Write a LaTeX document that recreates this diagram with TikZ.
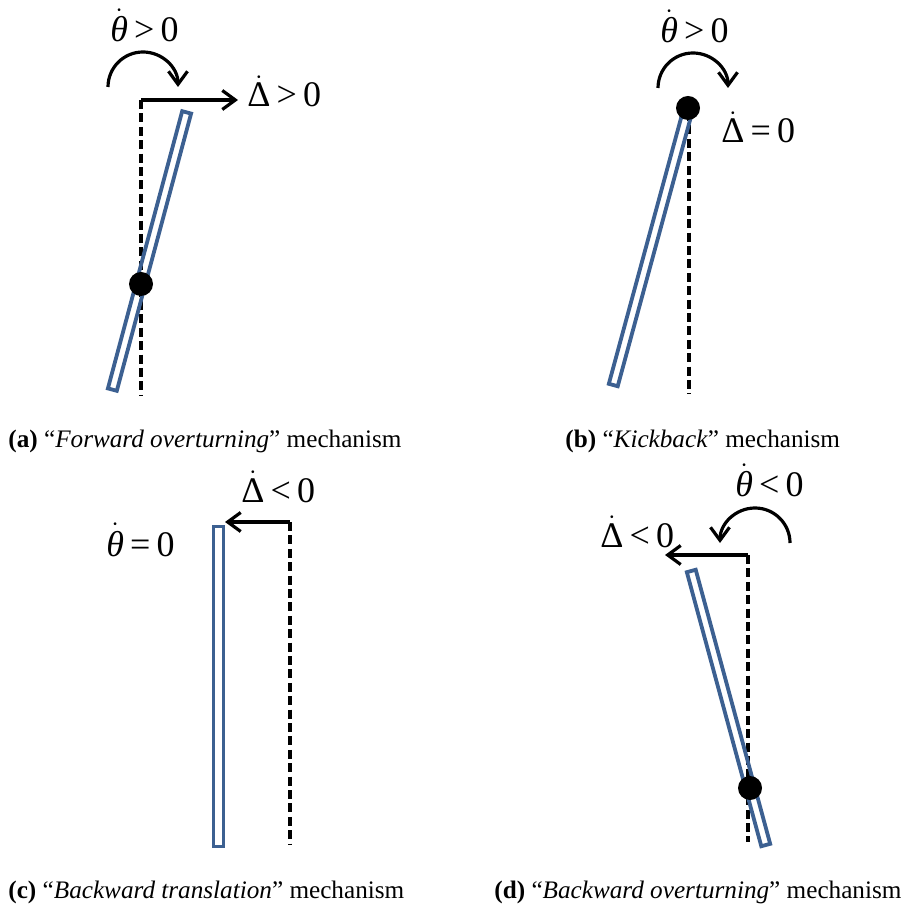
\documentclass[tikz,border=0pt]{standalone}
\usepackage{fontspec}
\setmainfont{Liberation Serif}
\usetikzlibrary{arrows.meta}

\definecolor{barblue}{RGB}{60,96,145}
\newcommand{\rate}[2]{\ensuremath{\dot{\hbox{#1}}}\hspace{0.17em}#2\hspace{0.17em}0}

\begin{document}
\begin{tikzpicture}[
x=0.5pt, y=0.5pt,
wall/.style={rectangle, draw=barblue, line width=1.9pt, inner sep=0pt, minimum width=4.6pt},
pin/.style={circle, fill=black, inner sep=0pt, minimum size=12pt},
plumb/.style={line width=1.6pt, dash pattern=on 4.5pt off 2.2pt},
arrow/.style={-{Straight Barb[length=6.5pt, width=9.5pt, line width=1.6pt]}, line width=1.6pt},
lbl/.style={inner sep=0pt, anchor=base west, font=\fontsize{18}{21}\selectfont},
capt/.style={inner sep=0pt, anchor=base west, font=\fontsize{12.6}{15}\selectfont}
]
\useasboundingbox (0,0) rectangle (913,910);

% (a) forward overturning
\coordinate (aTop) at (141,810);
\coordinate (aBot) at (141,515);
\coordinate (aTip) at (238,810);
\coordinate (aTurn) at (108,823);
\draw[plumb] (aTop) -- (aBot);
\node[wall, rotate=-15, minimum height=143.5pt] (aWall) at (149.5,659) {};
\node[pin] (aPin) at (141,626) {};
\draw[arrow] (aTop) -- (aTip);
\draw[arrow] (aTurn) arc[start angle=180, end angle=0, radius=35];
\node[lbl] (aRot) at (110,868) {\rate{\itshape θ}{>}};
\node[lbl] (aDisp) at (247,803) {\rate{Δ}{>}};
\node[capt] (aCapt) at (8,462) {\textbf{(a)} “\textit{Forward overturning}” mechanism};

% (b) kickback
\coordinate (bTop) at (689,798);
\coordinate (bBot) at (689,516);
\coordinate (bTurn) at (658,822);
\draw[plumb] (bTop) -- (bBot);
\node[wall, rotate=-15.2, minimum height=142pt] (bWall) at (650.5,662) {};
\node[pin] (bPin) at (688,802) {};
\draw[arrow] (bTurn) arc[start angle=180, end angle=0, radius=35];
\node[lbl] (bRot) at (660,867) {\rate{\itshape θ}{>}};
\node[lbl] (bDisp) at (721,767) {\rate{Δ}{=}};
\node[capt] (bCapt) at (565,462) {\textbf{(b)} “\textit{Kickback}” mechanism};

% (c) backward translation
\coordinate (cTop) at (290,388);
\coordinate (cBot) at (290,65);
\coordinate (cTip) at (225,388);
\draw[plumb] (cTop) -- (cBot);
\node[wall, minimum width=5pt, minimum height=160pt] (cWall) at (218.5,223.5) {};
\draw[arrow] (cTop) -- (cTip);
\node[lbl] (cDisp) at (241,408) {\rate{Δ}{<}};
\node[lbl] (cRot) at (106,354) {\rate{\itshape θ}{=}};
\node[capt] (cCapt) at (8,12) {\textbf{(c)} “\textit{Backward translation}” mechanism};

% (d) backward overturning
\coordinate (dTop) at (748,355);
\coordinate (dBot) at (748,68);
\coordinate (dTip) at (665,355);
\coordinate (dTurn) at (790,367);
\draw[plumb] (dTop) -- (dBot);
\node[wall, rotate=15.2, minimum height=142pt] (dWall) at (728.5,202) {};
\node[pin] (dPin) at (750,122) {};
\draw[arrow] (dTop) -- (dTip);
\draw[arrow] (dTurn) arc[start angle=0, end angle=180, radius=35];
\node[lbl] (dDisp) at (600,363) {\rate{Δ}{<}};
\node[lbl] (dRot) at (735,413) {\rate{\itshape θ}{<}};
\node[capt] (dCapt) at (494,12) {\textbf{(d)} “\textit{Backward overturning}” mechanism};

\end{tikzpicture}
\end{document}
